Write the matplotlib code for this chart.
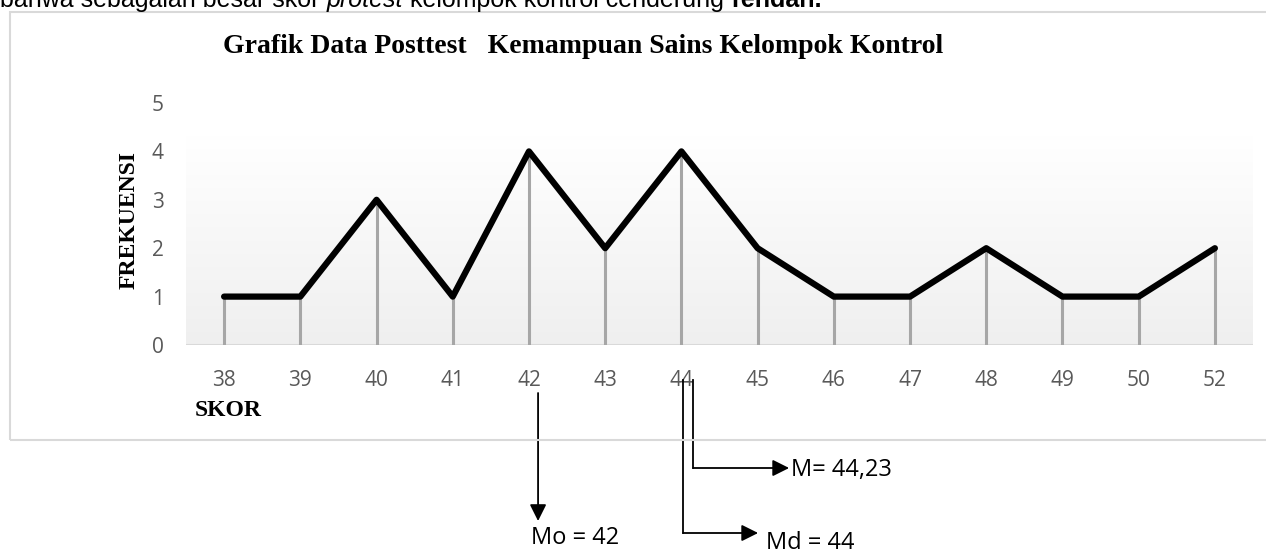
import numpy as np
import matplotlib
matplotlib.use("Agg")
import matplotlib.pyplot as plt
from matplotlib.patches import Rectangle
from matplotlib.colors import LinearSegmentedColormap

# skor posttest kelompok kontrol dan frekuensinya
skor = ["38", "39", "40", "41", "42", "43", "44", "45", "46", "47", "48", "49", "50", "52"]
frekuensi = [1, 1, 3, 1, 4, 2, 4, 2, 1, 1, 2, 1, 1, 2]
y_ticks = [0, 1, 2, 3, 4, 5]

judul = "Grafik Data Posttest   Kemampuan Sains Kelompok Kontrol"
mo_label = "Mo = 42"
md_label = "Md = 44"
mean_label = "M= 44,23"

# kalimat paragraf di atas grafik: (teks, gaya, tebal)
kalimat = [("bahwa sebagaian besar skor ", "normal", "normal"),
           ("protest", "italic", "normal"),
           (" kelompok kontrol cenderung ", "normal", "normal"),
           ("rendah.", "normal", "bold")]

W, H = 1266, 553
fig = plt.figure(figsize=(W / 100, H / 100), dpi=100)

# outer chart frame
fig.patches.append(Rectangle((10 / W, (H - 440) / H), 1.2, 428 / H, transform=fig.transFigure,
                             fill=False, edgecolor="#d9d9d9", lw=1.5, zorder=0))

# paragraph line above the chart, partly cut by the page edge
renderer = fig.canvas.get_renderer()
xpos = 0
for teks, gaya, tebal in kalimat:
    t = fig.text(xpos / W, 1 - 7 / H, teks, fontsize=18, family="Liberation Sans",
                 style=gaya, fontweight=tebal, va="baseline", ha="left")
    xpos = t.get_window_extent(renderer).x1

ax = fig.add_axes([186 / W, (H - 345) / H, 1067 / W, 242 / H])
x = np.arange(len(skor))

# soft grey gradient behind the plot
grad = np.linspace(0, 1, 256).reshape(-1, 1)
cmap = LinearSegmentedColormap.from_list("g", ["#efefef", "#ffffff"])
ax.imshow(grad, extent=[-0.5, len(skor) - 0.5, 0, 4.3], origin="lower", aspect="auto",
          cmap=cmap, zorder=0)

ax.vlines(x, 0, frekuensi, colors="#a6a6a6", lw=2.2, zorder=2)
ax.plot(x, frekuensi, color="black", lw=4.5, solid_joinstyle="round", solid_capstyle="round", zorder=3)
ax.axhline(0, color="#d9d9d9", lw=1.5, zorder=1)

ax.set_xlim(-0.5, len(skor) - 0.5)
ax.set_ylim(0, 5)
ax.set_xticks(x)
ax.set_xticklabels(skor)
ax.set_yticks(y_ticks)
ax.tick_params(length=0, labelsize=15, labelcolor="#595959")
ax.tick_params(axis="y", pad=16)
ax.tick_params(axis="x", pad=18)
for lab in ax.get_xticklabels() + ax.get_yticklabels():
    lab.set_family("Open Sans")
for s in ax.spines.values():
    s.set_visible(False)
ax.set_facecolor("none")

serif = "Liberation Serif"
fig.text(223 / W, 1 - 47 / H, judul, ha="left", va="center", fontsize=20,
         fontweight="bold", family=serif)
fig.text(129 / W, 1 - 220 / H, "FREKUENSI", rotation=90, ha="center", va="center",
         fontsize=17, fontweight="bold", family=serif)
fig.text(195 / W, 1 - 411 / H, "SKOR", ha="left", va="center", fontsize=17,
         fontweight="bold", family=serif)

# markers for modus, median and mean below the axis
px = 48.4  # pixels per unit on the y axis
col = 76.2  # pixels per category


def ypos(py):
    return (345 - py) / px


def xpos_(pxx):
    return (pxx - 186) / col - 0.5


arrow = dict(arrowstyle="-|>,head_length=1.0,head_width=0.5", color="black", lw=1.3,
             shrinkA=0, shrinkB=0)
line = dict(color="black", lw=1.3, clip_on=False)
lab = dict(fontsize=17, family="Open Sans", ha="left", va="center", clip_on=False)

mo_x = xpos_(538)
ax.annotate("", xy=(mo_x, ypos(521)), xytext=(mo_x, ypos(393)), arrowprops=arrow,
            annotation_clip=False)
ax.text(xpos_(531), ypos(538), mo_label, **lab)

md_x = xpos_(683)
ax.plot([md_x, md_x], [ypos(380), ypos(533)], **line)
ax.annotate("", xy=(xpos_(758), ypos(533)), xytext=(md_x, ypos(533)), arrowprops=arrow,
            annotation_clip=False)
ax.text(xpos_(766), ypos(543), md_label, **lab)

mean_x = xpos_(693)
ax.plot([mean_x, mean_x], [ypos(380), ypos(468)], **line)
ax.annotate("", xy=(xpos_(789), ypos(468)), xytext=(mean_x, ypos(468)), arrowprops=arrow,
            annotation_clip=False)
ax.text(xpos_(791), ypos(470), mean_label, **lab)

fig.savefig("out.png", dpi=100)
